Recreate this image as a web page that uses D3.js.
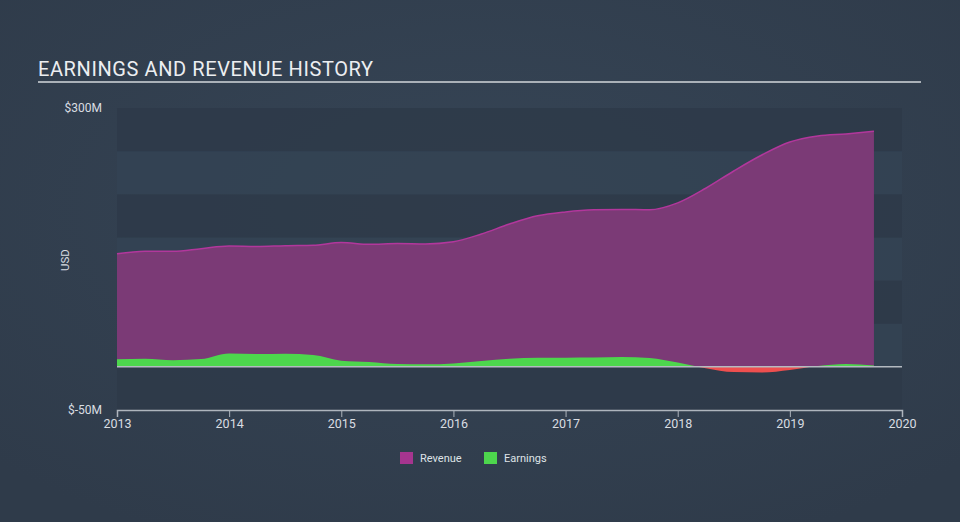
<!DOCTYPE html>
<html><head><meta charset="utf-8">
<script src="https://cdn.jsdelivr.net/npm/d3@7"></script>
<style>
html,body{margin:0;padding:0;background:#323f4f;}
svg{display:block;font-family:Roboto,"Open Sans",sans-serif;}
</style></head>
<body>
<svg id="c" width="960" height="522"></svg>
<script>
const dates = [2013.0,2013.25,2013.5,2013.75,2014.0,2014.25,2014.5,2014.75,2015.0,2015.25,2015.5,2015.75,2016.0,2016.25,2016.5,2016.75,2017.0,2017.25,2017.5,2017.75,2018.0,2018.25,2018.5,2018.75,2019.0,2019.25,2019.5,2019.75];
const revenue = [131,134,134,137,140,139.5,140.5,141,144,142,143,142.5,145,154,165.5,175,179.5,182,182.5,182,190,207,227,245.5,260.5,267.5,270,273];
const earnings = [8.8,9.5,7.8,9,15.5,14.8,15.3,13.8,7.2,5.6,3.2,3,4,6.8,9.5,10.5,10.7,10.8,11.5,10.2,5,-1.5,-6,-6.5,-3.5,1,3.4,1.5];
const xTicks = [2013,2014,2015,2016,2017,2018,2019,2020];
const yTickLabels = ["$300M","$-50M"];
const yTickValues = [300,-50];
const seriesNames = ["Revenue","Earnings"];

const svg = d3.select("#c");
const defs = svg.append("defs");
const g0 = defs.append("radialGradient").attr("id","bg").attr("cx","50%").attr("cy","40%").attr("r","70%");
g0.append("stop").attr("offset","0%").attr("stop-color","#364556");
g0.append("stop").attr("offset","100%").attr("stop-color","#2f3b4a");
svg.append("rect").attr("width",960).attr("height",522).attr("fill","url(#bg)");

const x = d3.scaleLinear().domain([2013,2020]).range([117,902]);
const y = d3.scaleLinear().domain([-50,300]).range([410,108]);

// background bands
const bands = d3.range(-50,300,50);
svg.append("g").selectAll("rect").data(bands).join("rect")
  .attr("x",x(2013)).attr("width",x(2020)-x(2013))
  .attr("y",d=>y(d+50)).attr("height",d=>y(d)-y(d+50))
  .attr("fill",(d,i)=> i%2===0 ? "#2e3a49" : "#344353")
  .attr("opacity",0.85);

// title
svg.append("text").attr("x",38).attr("y",76).attr("fill","#eceef1")
  .attr("font-size",20).attr("letter-spacing",0.6).text("EARNINGS AND REVENUE HISTORY");
svg.append("line").attr("x1",38).attr("x2",921).attr("y1",82).attr("y2",82)
  .attr("stroke","#aab1b8").attr("stroke-width",2);

const data = dates.map((d,i)=>({d,r:revenue[i],e:earnings[i]}));
const curve = d3.curveMonotoneX;

// revenue area
svg.append("path").datum(data)
  .attr("d",d3.area().curve(curve).x(d=>x(d.d)).y0(y(0)).y1(d=>y(d.r)))
  .attr("fill","#7b3a76");
svg.append("path").datum(data)
  .attr("d",d3.line().curve(curve).x(d=>x(d.d)).y(d=>y(d.r)))
  .attr("fill","none").attr("stroke","#b2379c").attr("stroke-width",1.5);

// earnings area, clipped to positive/negative
defs.append("clipPath").attr("id","pos").append("rect")
  .attr("x",0).attr("y",0).attr("width",960).attr("height",y(0));
defs.append("clipPath").attr("id","neg").append("rect")
  .attr("x",0).attr("y",y(0)).attr("width",960).attr("height",522-y(0));
const eArea = d3.area().curve(curve).x(d=>x(d.d)).y0(y(0)).y1(d=>y(d.e));
svg.append("path").datum(data).attr("d",eArea).attr("fill","#4dd64d").attr("clip-path","url(#pos)");
svg.append("path").datum(data).attr("d",eArea).attr("fill","#ee4f4f").attr("clip-path","url(#neg)");

// zero line
svg.append("line").attr("x1",x(2013)).attr("x2",x(2020)).attr("y1",y(0)).attr("y2",y(0))
  .attr("stroke","#b4bac1").attr("stroke-width",1.5);

// x axis
const xa = svg.append("g").attr("transform",`translate(0,${y(-50)})`)
  .call(d3.axisBottom(x).tickValues(xTicks).tickFormat(d3.format("d")).tickSize(7).tickPadding(2));
xa.select(".domain").attr("stroke","#aeb5bd").attr("stroke-width",1.5);
xa.selectAll(".tick line").attr("stroke","#aeb5bd");
xa.selectAll("text").attr("fill","#d9dde2").attr("font-size",12.5).attr("font-family","Roboto,sans-serif");

// y labels
svg.append("g").selectAll("text").data(yTickValues).join("text")
  .attr("x",102).attr("y",d=>y(d)+4).attr("text-anchor","end")
  .attr("fill","#d9dde2").attr("font-size",12).text((d,i)=>yTickLabels[i]);
svg.append("text").attr("transform",`translate(69,260) rotate(-90)`)
  .attr("text-anchor","middle").attr("fill","#d9dde2").attr("font-size",11.5).text("USD");

// legend
const legColors = ["#a6358f","#4dd64d"];
const legX = [400,484];
const lg = svg.append("g");
seriesNames.forEach((n,i)=>{
  lg.append("rect").attr("x",legX[i]).attr("y",452).attr("width",13).attr("height",12).attr("fill",legColors[i]);
  lg.append("text").attr("x",legX[i]+20).attr("y",462).attr("fill","#dfe3e7").attr("font-size",11).text(n);
});
</script>
</body></html>
